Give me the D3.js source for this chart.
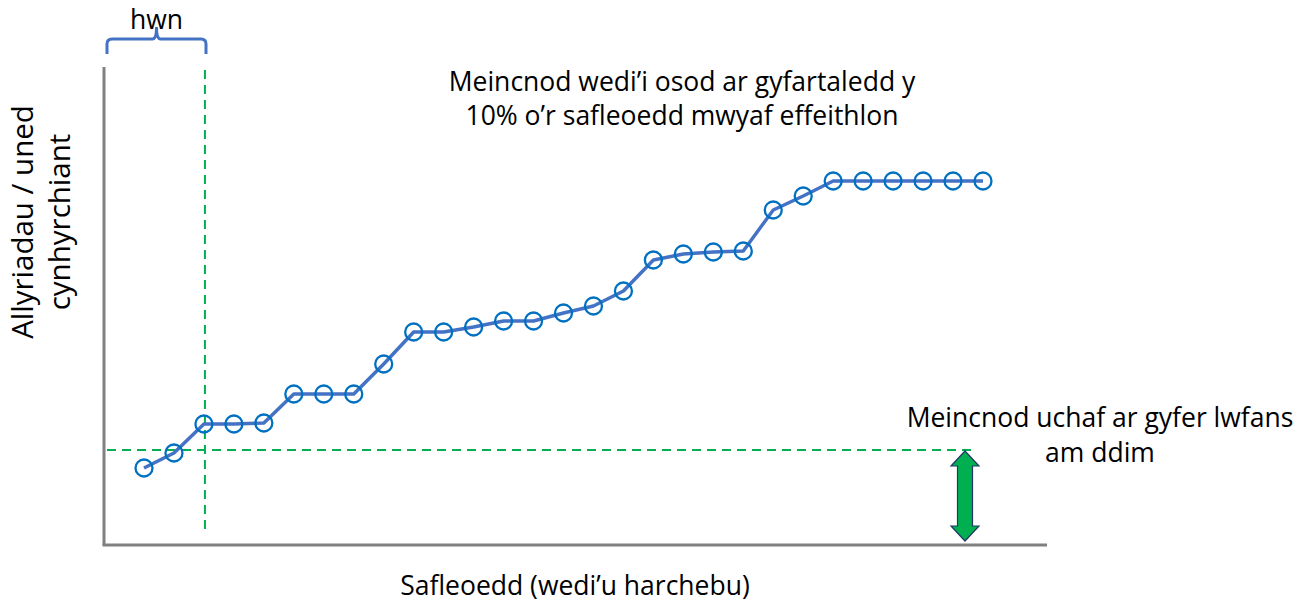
<!DOCTYPE html>
<html>
<head>
<meta charset="utf-8">
<script src="https://cdn.jsdelivr.net/npm/d3@7"></script>
<style>
	body { margin: 0; background: #fff; }
	text { font-family: "Open Sans", Lato, sans-serif; fill: #000; }
</style>
</head>
<body>
<svg id="chart" width="1306" height="608"></svg>
<script>
// ---DATA---//

// sites, ordered by rank
var siteIndex = d3.range(1, 30);
// emissions per unit of production (arbitrary units)
var emissions = [ 7.7, 9.2, 12.1, 12.1, 12.2, 15.1, 15.1, 15.1, 18.1, 21.3,
		21.3, 21.8, 22.4, 22.4, 23.2, 23.9, 25.4, 28.5, 29.1, 29.3, 29.4, 33.5,
		34.9, 36.4, 36.4, 36.4, 36.4, 36.4, 36.4 ];
// benchmark (horizontal dashed line) and the site it sits at
var benchmarkValue = [ 9.5 ];
var benchmarkSite = [ 3 ];

var titleLines = [ "Meincnod wedi\u2019i osod ar gyfartaledd y",
		"10% o\u2019r safleoedd mwyaf effeithlon" ];
var allowanceLines = [ "Meincnod uchaf ar gyfer lwfans", "am ddim" ];
var yLabelLines = [ "Allyriadau / uned", "cynhyrchiant" ];
var xLabel = [ "Safleoedd (wedi\u2019u harchebu)" ];
var braceLabel = [ "hwn" ];

// ---LAYOUT---//

var axisLeft = 104, axisRight = 1047, axisTop = 67, axisBottom = 545;
var lineColor = "#4472C4";
var markerColor = "#0070C0";
var green = "#00B050";
var fontSize = 26.5;
var yLabelSize = 29.5;

var svg = d3.select("#chart");

var x = d3.scaleLinear().domain([ 1, 29 ]).range([ 144, 983 ]);
var y = d3.scaleLinear().domain([ 0, 48 ]).range([ axisBottom, axisBottom - 480 ]);

// ---AXES---//

svg.append("line").attr("x1", axisLeft).attr("x2", axisLeft) //
.attr("y1", axisTop).attr("y2", axisBottom) //
.attr("stroke", "#808080").attr("stroke-width", 3);

svg.append("line").attr("x1", axisLeft - 1.5).attr("x2", axisRight) //
.attr("y1", axisBottom).attr("y2", axisBottom) //
.attr("stroke", "#808080").attr("stroke-width", 3);

// ---BENCHMARK LINES---//

var bx = x(benchmarkSite[0]) + 1;
var by = y(benchmarkValue[0]);

svg.append("line").attr("x1", bx).attr("x2", bx) //
.attr("y1", 70).attr("y2", axisBottom - 10) //
.attr("stroke", green).attr("stroke-width", 2) //
.attr("stroke-dasharray", "9,6");

svg.append("line").attr("x1", axisLeft + 3).attr("x2", 977) //
.attr("y1", by).attr("y2", by) //
.attr("stroke", green).attr("stroke-width", 2) //
.attr("stroke-dasharray", "9,6");

// ---SERIES---//

var data = siteIndex.map(function(d, i) {
	return {
		site : d,
		value : emissions[i]
	};
});

var line = d3.line().x(function(d) {
	return x(d.site);
}).y(function(d) {
	return y(d.value);
});

svg.append("path").datum(data).attr("d", line) //
.attr("fill", "none").attr("stroke", lineColor) //
.attr("stroke-width", 3.5).attr("stroke-linejoin", "round");

svg.selectAll(".site").data(data).enter().append("circle") //
.attr("class", "site") //
.attr("cx", function(d) {
	return x(d.site);
}) //
.attr("cy", function(d) {
	return y(d.value);
}) //
.attr("r", 8.5).attr("fill", "none") //
.attr("stroke", markerColor).attr("stroke-width", 2.3);

// ---DOUBLE ARROW---//

var ax = 965, top0 = by + 1, bot0 = y(0) - 4;
var shaft = 7.5, head = 14, headLen = 15;
var arrow = d3.path();
arrow.moveTo(ax, top0);
arrow.lineTo(ax + head, top0 + headLen);
arrow.lineTo(ax + shaft, top0 + headLen);
arrow.lineTo(ax + shaft, bot0 - headLen);
arrow.lineTo(ax + head, bot0 - headLen);
arrow.lineTo(ax, bot0);
arrow.lineTo(ax - head, bot0 - headLen);
arrow.lineTo(ax - shaft, bot0 - headLen);
arrow.lineTo(ax - shaft, top0 + headLen);
arrow.lineTo(ax - head, top0 + headLen);
arrow.closePath();

svg.append("path").attr("d", arrow.toString()) //
.attr("fill", green).attr("stroke", "#203864").attr("stroke-width", 1.2);

// ---BRACE---//

var bl = 107, br = 206, bm = (bl + br) / 2, btop = 39, bend = 54;
var brace = d3.path();
brace.moveTo(bl, bend);
brace.lineTo(bl, btop + 5);
brace.quadraticCurveTo(bl, btop, bl + 5, btop);
brace.lineTo(bm - 4, btop);
brace.quadraticCurveTo(bm, btop, bm, btop - 12);
brace.quadraticCurveTo(bm, btop, bm + 4, btop);
brace.lineTo(br - 5, btop);
brace.quadraticCurveTo(br, btop, br, btop + 5);
brace.lineTo(br, bend);

svg.append("path").attr("d", brace.toString()) //
.attr("fill", "none").attr("stroke", lineColor).attr("stroke-width", 3);

// ---TEXT---//

svg.append("text").attr("x", bm).attr("y", 29) //
.attr("text-anchor", "middle").attr("font-size", fontSize) //
.text(braceLabel[0]);

svg.selectAll(".title").data(titleLines).enter().append("text") //
.attr("class", "title") //
.attr("x", 682).attr("y", function(d, i) {
	return 91 + i * 34;
}) //
.attr("text-anchor", "middle").attr("font-size", fontSize) //
.text(function(d) {
	return d;
});

svg.selectAll(".allowance").data(allowanceLines).enter().append("text") //
.attr("class", "allowance") //
.attr("x", 1100).attr("y", function(d, i) {
	return 427 + i * 35;
}) //
.attr("text-anchor", "middle").attr("font-size", fontSize) //
.text(function(d) {
	return d;
});

svg.selectAll(".ylabel").data(yLabelLines).enter().append("text") //
.attr("class", "ylabel") //
.attr("transform", function(d, i) {
	return "translate(" + (33 + i * 37) + ",222) rotate(-90)";
}) //
.attr("text-anchor", "middle").attr("font-size", yLabelSize) //
.text(function(d) {
	return d;
});

svg.append("text").attr("x", 575).attr("y", 595) //
.attr("text-anchor", "middle").attr("font-size", fontSize) //
.text(xLabel[0]);
</script>
</body>
</html>
